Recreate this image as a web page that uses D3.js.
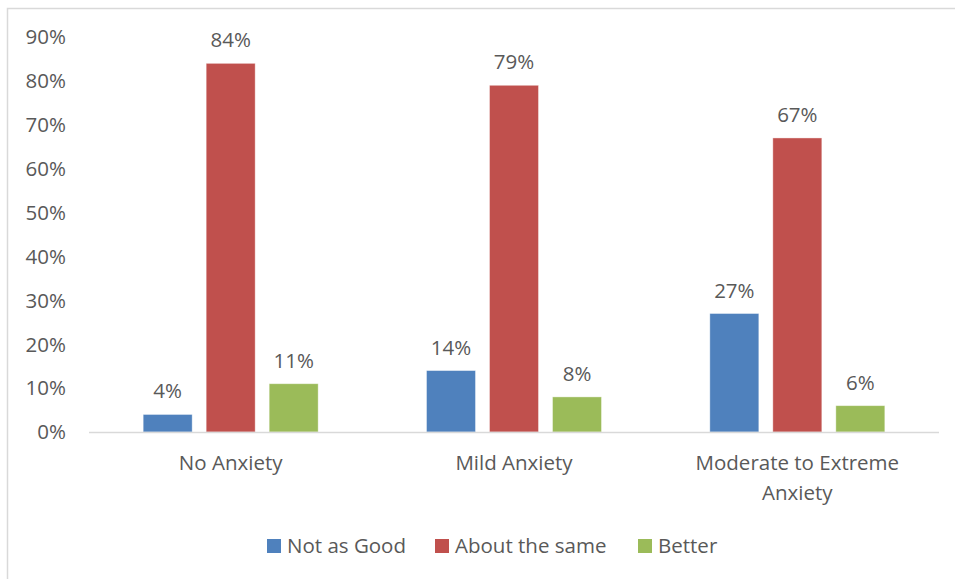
<!DOCTYPE html>
<html>
<head>
<meta charset="utf-8">
<script src="https://cdn.jsdelivr.net/npm/d3@7"></script>
<style>
  html, body { margin: 0; padding: 0; background: #fff; }
  svg text { font-family: "Open Sans", Lato, sans-serif; fill: #595959; }
</style>
</head>
<body>
<svg id="chart" width="955" height="579"></svg>
<script>
// Grouped bar chart: change in condition by anxiety level
const categories = [["No Anxiety"], ["Mild Anxiety"], ["Moderate to Extreme", "Anxiety"]];
const seriesNames = ["Not as Good", "About the same", "Better"];
const seriesColors = ["#4f81bd", "#c0504d", "#9bbb59"];
const notAsGood = [4, 14, 27];
const aboutTheSame = [84, 79, 67];
const better = [11, 8, 6];
const yTicks = [0, 10, 20, 30, 40, 50, 60, 70, 80, 90];

const seriesValues = [notAsGood, aboutTheSame, better];
const FS = 20.5;

const svg = d3.select("#chart");
const W = 955, H = 579;

// outer frame
svg.append("rect")
  .attr("x", 7.5).attr("y", 8.5)
  .attr("width", W + 10).attr("height", H + 10)
  .attr("fill", "#fff").attr("stroke", "#d9d9d9").attr("stroke-width", 1.5);

const plot = { left: 89, right: 939, top: 37, bottom: 432 };

const x0 = d3.scaleBand()
  .domain(d3.range(categories.length))
  .range([plot.left, plot.right])
  .paddingInner(0).paddingOuter(0);

const x1 = d3.scaleBand()
  .domain(d3.range(seriesNames.length))
  .range([0, x0.bandwidth()])
  .paddingInner(14 / 63)
  .paddingOuter(((x0.bandwidth() - 175) / 2) / 63);

const y = d3.scaleLinear().domain([0, 90]).range([plot.bottom, plot.top]);

// y-axis tick labels
svg.append("g").selectAll("text")
  .data(yTicks).join("text")
  .attr("x", 66)
  .attr("y", d => y(d))
  .attr("dy", "0.36em")
  .attr("text-anchor", "end")
  .attr("font-size", FS)
  .text(d => d + "%");

// bars and value labels
const groups = svg.append("g").selectAll("g")
  .data(categories).join("g")
  .attr("transform", (d, i) => `translate(${x0(i)},0)`);

groups.each(function(cat, ci) {
  const g = d3.select(this);
  seriesValues.forEach((vals, si) => {
    const v = vals[ci];
    g.append("rect")
      .attr("x", x1(si))
      .attr("y", y(v))
      .attr("width", x1.bandwidth())
      .attr("height", y(0) - y(v))
      .attr("fill", seriesColors[si])
      .attr("stroke", "#ffffff").attr("stroke-opacity", 0.5).attr("stroke-width", 0.8);
    g.append("text")
      .attr("x", x1(si) + x1.bandwidth() / 2)
      .attr("y", y(v) - 16)
      .attr("text-anchor", "middle")
      .attr("font-size", FS)
      .text(v + "%");
  });
});

// category axis line
svg.append("line")
  .attr("x1", plot.left).attr("x2", plot.right)
  .attr("y1", plot.bottom + 0.5).attr("y2", plot.bottom + 0.5)
  .attr("stroke", "#d9d9d9").attr("stroke-width", 1.5);

// category labels
svg.append("g").selectAll("text")
  .data(categories).join("text")
  .attr("x", (d, i) => x0(i) + x0.bandwidth() / 2)
  .attr("y", 470)
  .attr("text-anchor", "middle")
  .attr("font-size", FS)
  .each(function(lines) {
    d3.select(this).selectAll("tspan").data(lines).join("tspan")
      .attr("x", d3.select(this).attr("x"))
      .attr("dy", (d, k) => k === 0 ? 0 : 30)
      .text(d => d);
  });

// legend
const legendX = [267, 435, 638];
const legend = svg.append("g").selectAll("g")
  .data(seriesNames).join("g")
  .attr("transform", (d, i) => `translate(${legendX[i]},539)`);
legend.append("rect")
  .attr("width", 14).attr("height", 14)
  .attr("fill", (d, i) => seriesColors[i]);
legend.append("text")
  .attr("x", 20).attr("y", 7)
  .attr("dy", "0.36em")
  .attr("font-size", FS)
  .text(d => d);
</script>
</body>
</html>
